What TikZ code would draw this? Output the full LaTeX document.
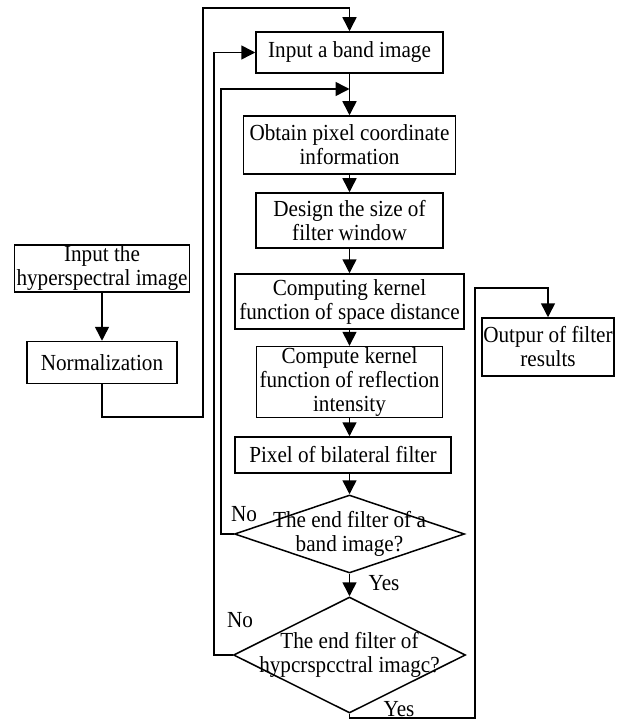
\documentclass[tikz,border=0pt]{standalone}
\usepackage{fontspec}
\setmainfont{Liberation Serif}[FakeStretch=0.92]
\usetikzlibrary{arrows.meta,shapes.geometric}
\begin{document}
\begin{tikzpicture}[x=1pt,y=-1pt,
  font=\fontsize{23}{24}\selectfont,
  box/.style={draw, line width=1.5pt, inner sep=1pt, align=center},
  dia/.style={draw, diamond, line width=1.5pt, inner sep=0pt},
  ln/.style={line width=1.5pt},
  arr/.style={ln, -{Triangle[length=14pt,width=14pt]}},
  lab/.style={inner sep=0pt}]
\useasboundingbox (0,0) rectangle (626,722);

% main column
\node[box, minimum width=187pt, minimum height=41pt] (band) at (349.5,52.5) {Input a band image};
\node[box, minimum width=212pt, minimum height=58pt] (obtain) at (349.5,145) {Obtain pixel coordinate\\information};
\node[box, minimum width=187pt, minimum height=55pt] (design) at (349.5,220.5) {Design the size of\\filter window};
\node[box, minimum width=229pt, minimum height=55pt] (computing) at (349.5,301.5) {Computing kernel\\function of space distance};
\node[box, minimum width=186pt, minimum height=62pt] (compute) at (349.5,382) {Compute kernel\\function of reflection\\intensity};
\node[box, minimum width=216pt, minimum height=36pt] (pixel) at (343,455) {Pixel of bilateral filter};
\node[dia, minimum width=230pt, minimum height=78pt,
  label={[align=center, lab]center:The end filter of a\\band image?}] (d1) at (349.5,534) {};
\node[dia, minimum width=232pt, minimum height=116pt,
  label={[align=center, lab]center:The end filter of\\hypcrspcctral imagc?}] (d2) at (349.5,655) {};

% left column
\node[box, minimum width=175pt, minimum height=45pt] (hyper) at (102,268.5) {Input the\\hyperspectral image};
\node[box, minimum width=150pt, minimum height=42pt] (norm) at (102,362.5) {Normalization};

% right
\node[box, minimum width=132pt, minimum height=58pt] (outp) at (548,347) {Outpur of filter\\results};

% labels
\node[lab] (no1) at (244,514) {No};
\node[lab] (yes1) at (384,583) {Yes};
\node[lab] (no2) at (240,620) {No};
\node[lab] (yes2) at (399,709) {Yes};

% junction
\coordinate (j) at (349.5,89);

% connectors
\draw[arr] (hyper.south) -- (norm.north);
\draw[arr] (norm.south) -- (102,417) -| (203,8) -| (band.north);
\draw[arr] (band.south) -- (obtain.north);
\draw[arr] (obtain.south) -- (design.north);
\draw[arr] (design.south) -- (computing.north);
\draw[arr] (computing.south) -- (compute.north);
\draw[arr] (compute.south) -- (compute.south |- pixel.north);
\draw[arr] (d1.north |- pixel.south) -- (d1.north);
\draw[arr] (d1.south) -- (d2.north);
\draw[arr] (d1.west) -- (221,534) |- (j);
\draw[arr] (d2.west) -- (214,655) |- (band.west);
\draw[arr] (d2.south) -- (349.5,718) -| (475,288) -| (outp.north);
\end{tikzpicture}
\end{document}
